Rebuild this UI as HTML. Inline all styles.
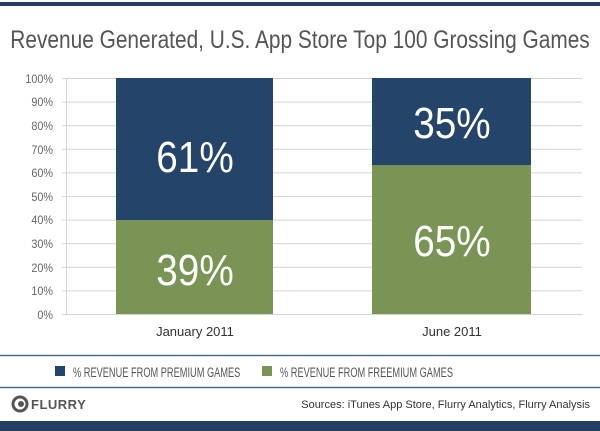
<!DOCTYPE html>
<html><head><meta charset="utf-8"><style>
body{margin:0;background:#fff;}
svg{display:block;font-family:"Liberation Sans",sans-serif;}
</style></head><body>
<svg width="600" height="431" viewBox="0 0 600 431">
<rect x="0" y="2" width="600" height="4" fill="#233f63"/>
<text x="300" y="48" text-anchor="middle" font-size="25" fill="#555" transform="translate(300 0) scale(0.835 1) translate(-300 0)">Revenue Generated, U.S. App Store Top 100 Grossing Games</text>
<g stroke="#d4d4d4" stroke-width="1">
<line x1="62" x2="582" y1="78.5" y2="78.5"/><line x1="62" x2="582" y1="102.1" y2="102.1"/>
<line x1="62" x2="582" y1="125.7" y2="125.7"/><line x1="62" x2="582" y1="149.3" y2="149.3"/>
<line x1="62" x2="582" y1="172.9" y2="172.9"/><line x1="62" x2="582" y1="196.5" y2="196.5"/>
<line x1="62" x2="582" y1="220.1" y2="220.1"/><line x1="62" x2="582" y1="243.7" y2="243.7"/>
<line x1="62" x2="582" y1="267.3" y2="267.3"/><line x1="62" x2="582" y1="290.9" y2="290.9"/>
<line x1="62" x2="582" y1="314.5" y2="314.5"/>
<line x1="66.5" x2="66.5" y1="78" y2="315"/>
</g>
<g font-size="12" fill="#666" text-anchor="end" transform="translate(53 0) scale(0.9 1) translate(-53 0)">
<text x="53" y="83">100%</text><text x="53" y="106">90%</text><text x="53" y="130">80%</text>
<text x="53" y="154">70%</text><text x="53" y="177">60%</text><text x="53" y="201">50%</text>
<text x="53" y="224">40%</text><text x="53" y="248">30%</text><text x="53" y="272">20%</text>
<text x="53" y="295">10%</text><text x="53" y="319">0%</text>
</g>
<rect x="116" y="78" width="157" height="142" fill="#244469"/>
<rect x="116" y="220" width="157" height="94" fill="#7a9455"/>
<rect x="372" y="78" width="159" height="87" fill="#244469"/>
<rect x="372" y="165" width="159" height="149" fill="#7a9455"/>
<g fill="#fff" font-size="44" text-anchor="middle">
<text x="195" y="172" transform="translate(195 0) scale(0.88 1) translate(-195 0)">61%</text>
<text x="195" y="285" transform="translate(195 0) scale(0.88 1) translate(-195 0)">39%</text>
<text x="452" y="138" transform="translate(452 0) scale(0.88 1) translate(-452 0)">35%</text>
<text x="452" y="256" transform="translate(452 0) scale(0.88 1) translate(-452 0)">65%</text>
</g>
<g font-size="13" fill="#333" text-anchor="middle">
<text x="195" y="336">January 2011</text><text x="452" y="336">June 2011</text>
</g>
<line x1="0" x2="600" y1="355.5" y2="355.5" stroke="#4a6a94" stroke-width="1.5"/>
<rect x="55" y="366" width="10" height="10" fill="#244469"/>
<rect x="262" y="366" width="10" height="10" fill="#7a9455"/>
<g font-size="14" fill="#555">
<text x="73" y="377" transform="translate(73 0) scale(0.66 1) translate(-73 0)">% REVENUE FROM PREMIUM GAMES</text>
<text x="280" y="377" transform="translate(280 0) scale(0.66 1) translate(-280 0)">% REVENUE FROM FREEMIUM GAMES</text>
</g>
<line x1="0" x2="600" y1="387.5" y2="387.5" stroke="#4a6a94" stroke-width="1.5"/>
<circle cx="20" cy="404" r="7" fill="none" stroke="#555" stroke-width="3"/>
<circle cx="21" cy="404" r="3" fill="#555"/>
<text x="31" y="409" font-size="13" font-weight="bold" fill="#555" letter-spacing="0.5">FLURRY</text>
<text x="590" y="408" font-size="11" fill="#333" text-anchor="end">Sources: iTunes App Store, Flurry Analytics, Flurry Analysis</text>
<rect x="0" y="421" width="600" height="10" fill="#233f63"/>
</svg>
</body></html>
